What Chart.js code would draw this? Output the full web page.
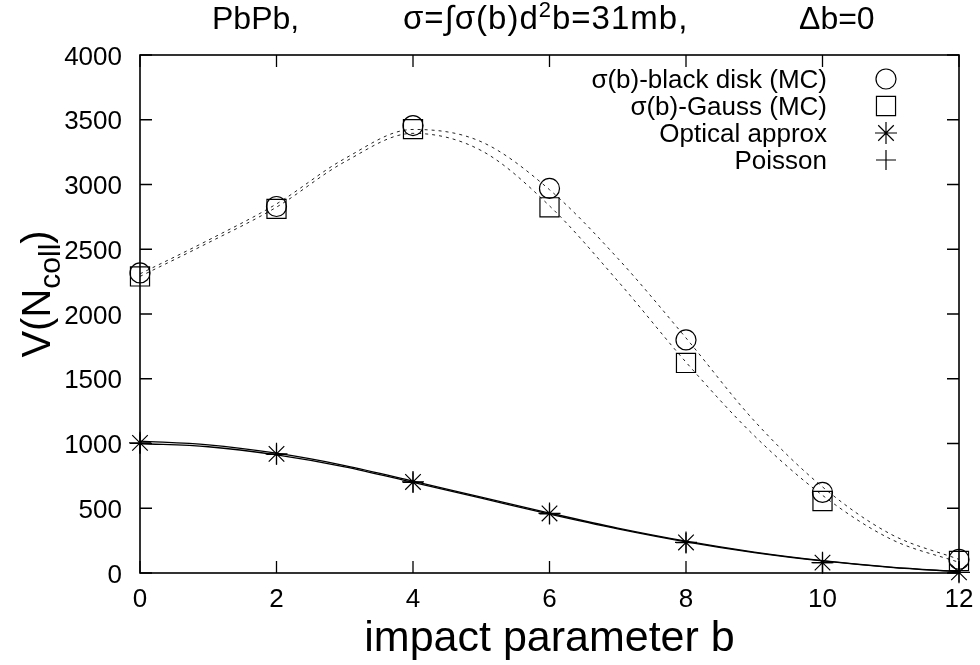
<!DOCTYPE html>
<html>
<head>
<meta charset="utf-8">
<script src="https://cdn.jsdelivr.net/npm/chart.js@4.4.1/dist/chart.umd.min.js"></script>
<style>
  html, body { margin: 0; padding: 0; background: #ffffff; }
  #wrap { width: 980px; height: 665px; }
</style>
</head>
<body>
<div id="wrap"><canvas id="ncollChart" width="980" height="665"></canvas></div>
<script>
// Impact parameter values of the simulated points.
var impactB = [0, 2, 4, 6, 8, 10, 12];
var blackDiskMC = [2317, 2830, 3455, 2970, 1800, 622, 105];
var gaussMC = [2290, 2812, 3428, 2824, 1622, 556, 93];
var opticalApprox = [1005, 920, 703, 460, 236, 80, 5];
var poisson = [1000, 915, 700, 456, 234, 80, 5];

// Smooth curves at every unit of b.
var curveB = [0, 1, 2, 3, 4, 5, 6, 7, 8, 9, 10, 11, 12];
var blackDiskCurve = [2310, 2570, 2850, 3200, 3425, 3330, 2960, 2430, 1815, 1175, 665, 300, 105];
var gaussCurve = [2290, 2550, 2825, 3175, 3395, 3262, 2835, 2255, 1628, 1060, 600, 262, 82];
var opticalCurve = [1018, 990, 925, 830, 710, 585, 463, 347, 246, 162, 96, 46, 12];
var poissonCurve = [1000, 975, 912, 820, 700, 578, 455, 341, 241, 158, 93, 44, 10];

// Tick labels.
var xTicks = [0, 2, 4, 6, 8, 10, 12];
var yTicks = [0, 500, 1000, 1500, 2000, 2500, 3000, 3500, 4000];

var FONT = "'Liberation Sans', Arial, Helvetica, sans-serif";

/**
 * Pairs two arrays into {x, y} points.
 */
function toPoints(xs, ys) {
    return xs.map(function (x, i) {
        return {x: x, y: ys[i]};
    });
}

function markerSet(label, ys, style, radius) {
    return {
        label: label,
        data: toPoints(impactB, ys),
        showLine: false,
        pointStyle: style,
        pointRadius: radius,
        pointHoverRadius: radius,
        pointBorderWidth: 1.2,
        pointBorderColor: "#000000",
        pointBackgroundColor: "rgba(0,0,0,0)",
        clip: false,
        isMarker: true
    };
}

function curveSet(ys, dashed) {
    return {
        data: toPoints(curveB, ys),
        showLine: true,
        pointRadius: 0,
        borderColor: dashed ? "#222222" : "#000000",
        borderWidth: dashed ? 1 : 1.3,
        borderDash: dashed ? [3, 4] : [],
        cubicInterpolationMode: "monotone",
        fill: false,
        clip: false
    };
}

// Draws a marker symbol for the legend.
function drawSymbol(ctx, ds, x, y) {
    ctx.save();
    ctx.strokeStyle = "#000000";
    ctx.fillStyle = "rgba(0,0,0,0)";
    ctx.lineWidth = 1.2;
    Chart.helpers.drawPoint(ctx, {
        pointStyle: ds.pointStyle,
        radius: ds.pointRadius,
        rotation: 0,
        borderWidth: 1.2
    }, x, y);
    ctx.restore();
}

// Writes text pieces one after another, returns the end x.
function writeRun(ctx, pieces, x, y) {
    pieces.forEach(function (p) {
        ctx.font = p.size + "px " + FONT;
        ctx.fillText(p.text, x, y - (p.rise || 0));
        x += ctx.measureText(p.text).width;
    });
    return x;
}

// Frame, inward ticks, tick labels, titles and legend.
var decorPlugin = {
    id: "decor",
    afterDraw: function (chart) {
        var ctx = chart.ctx;
        var area = chart.chartArea;
        var xs = chart.scales.x;
        var ys = chart.scales.y;
        var tick = 12;

        ctx.save();
        ctx.strokeStyle = "#000000";
        ctx.lineWidth = 1.6;
        ctx.strokeRect(area.left, area.top, area.right - area.left, area.bottom - area.top);

        ctx.lineWidth = 1.3;
        ctx.beginPath();
        xTicks.forEach(function (v) {
            var px = xs.getPixelForValue(v);
            ctx.moveTo(px, area.bottom);
            ctx.lineTo(px, area.bottom - tick);
            ctx.moveTo(px, area.top);
            ctx.lineTo(px, area.top + tick);
        });
        yTicks.forEach(function (v) {
            var py = ys.getPixelForValue(v);
            ctx.moveTo(area.left, py);
            ctx.lineTo(area.left + tick, py);
            ctx.moveTo(area.right, py);
            ctx.lineTo(area.right - tick, py);
        });
        ctx.stroke();

        // Tick labels.
        ctx.fillStyle = "#000000";
        ctx.font = "26px " + FONT;
        ctx.textBaseline = "alphabetic";
        ctx.textAlign = "center";
        xTicks.forEach(function (v) {
            ctx.fillText(String(v), xs.getPixelForValue(v), 607);
        });
        ctx.textAlign = "right";
        yTicks.forEach(function (v) {
            ctx.fillText(String(v), area.left - 18, ys.getPixelForValue(v) + 9.5);
        });

        // Title.
        ctx.textAlign = "left";
        ctx.font = "32px " + FONT;
        ctx.fillText("PbPb,", 212, 29);
        ctx.letterSpacing = "1px";
        writeRun(ctx, [
            {text: "\u03c3=\u222b\u03c3(b)d", size: 33},
            {text: "2", size: 22, rise: 12},
            {text: "b=31mb,", size: 33}
        ], 403, 29);
        ctx.letterSpacing = "0px";
        ctx.font = "32px " + FONT;
        ctx.fillText("\u0394b=0", 799, 29);

        // X axis title.
        ctx.font = "43px " + FONT;
        ctx.textAlign = "center";
        ctx.fillText("impact parameter b", (area.left + area.right) / 2, 651);

        // Y axis title with subscript.
        ctx.save();
        ctx.translate(50, 294);
        ctx.rotate(-Math.PI / 2);
        ctx.textAlign = "left";
        ctx.font = "40px " + FONT;
        var w1 = ctx.measureText("V(N").width;
        ctx.font = "30px " + FONT;
        var w2 = ctx.measureText("coll").width;
        ctx.font = "40px " + FONT;
        var w3 = ctx.measureText(")").width;
        writeRun(ctx, [
            {text: "V(N", size: 40},
            {text: "coll", size: 30, rise: -10},
            {text: ")", size: 40}
        ], -(w1 + w2 + w3) / 2, 0);
        ctx.restore();

        // Legend.
        ctx.font = "26px " + FONT;
        ctx.textAlign = "right";
        var row = 0;
        chart.data.datasets.forEach(function (ds) {
            if (!ds.isMarker) {
                return;
            }
            var y = 79 + row * 27;
            ctx.fillText(ds.label, 827, y + 9);
            drawSymbol(ctx, ds, 886, y);
            row++;
        });
        ctx.restore();
    }
};

var ctx = document.getElementById("ncollChart").getContext("2d");
new Chart(ctx, {
    type: "scatter",
    data: {
        datasets: [
            markerSet("\u03c3(b)-black disk (MC)", blackDiskMC, "circle", 10),
            markerSet("\u03c3(b)-Gauss (MC)", gaussMC, "rect", 13.5),
            markerSet("Optical approx", opticalApprox, "star", 11),
            markerSet("Poisson", poisson, "cross", 10),
            curveSet(blackDiskCurve, true),
            curveSet(gaussCurve, true),
            curveSet(opticalCurve, false),
            curveSet(poissonCurve, false)
        ]
    },
    options: {
        responsive: false,
        animation: false,
        devicePixelRatio: 1,
        layout: {padding: {left: 0, right: 21, top: 55, bottom: 0}},
        scales: {
            x: {
                type: "linear",
                min: 0,
                max: 12,
                grid: {display: false},
                border: {display: false},
                ticks: {display: false, stepSize: 2},
                afterFit: function (s) { s.height = 92; }
            },
            y: {
                type: "linear",
                min: 0,
                max: 4000,
                grid: {display: false},
                border: {display: false},
                ticks: {display: false, stepSize: 500},
                afterFit: function (s) { s.width = 140; }
            }
        },
        plugins: {
            legend: {display: false},
            tooltip: {enabled: false},
            title: {display: false}
        }
    },
    plugins: [decorPlugin]
});
</script>
</body>
</html>
